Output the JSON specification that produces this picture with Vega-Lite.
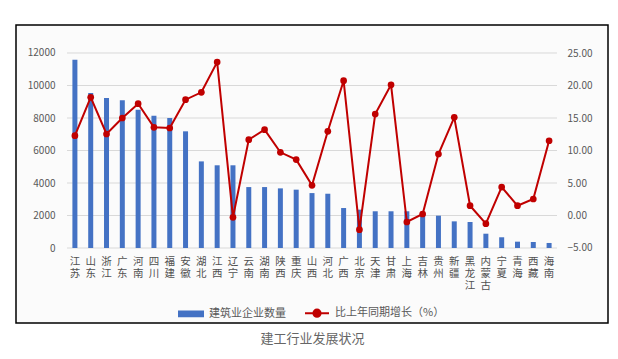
{
  "$schema": "https://vega.github.io/schema/vega-lite/v6.json",
  "width": 592,
  "height": 298,
  "autosize": {"type": "none"},
  "padding": {"left": 16, "top": 25, "right": 10, "bottom": 36},
  "background": "#ffffff",
  "config": {
    "font": "Noto Sans CJK SC",
    "view": {"stroke": "#000000", "strokeWidth": 1.5, "fill": "#fbfbfb"}
  },
  "datasets": {
    "main": [
      {"p": "江苏", "n": 11590, "g": 12.28},
      {"p": "山东", "n": 9540, "g": 18.18},
      {"p": "浙江", "n": 9230, "g": 12.54},
      {"p": "广东", "n": 9090, "g": 15.0},
      {"p": "河南", "n": 8510, "g": 17.2},
      {"p": "四川", "n": 8140, "g": 13.56},
      {"p": "福建", "n": 8000, "g": 13.46},
      {"p": "安徽", "n": 7180, "g": 17.82},
      {"p": "湖北", "n": 5330, "g": 18.95},
      {"p": "江西", "n": 5090, "g": 23.6},
      {"p": "辽宁", "n": 5090, "g": -0.28},
      {"p": "云南", "n": 3750, "g": 11.67},
      {"p": "湖南", "n": 3750, "g": 13.2},
      {"p": "陕西", "n": 3670, "g": 9.72},
      {"p": "重庆", "n": 3590, "g": 8.6},
      {"p": "山西", "n": 3380, "g": 4.64},
      {"p": "河北", "n": 3340, "g": 12.95},
      {"p": "广西", "n": 2460, "g": 20.74},
      {"p": "北京", "n": 2360, "g": -2.18},
      {"p": "天津", "n": 2260, "g": 15.6},
      {"p": "甘肃", "n": 2260, "g": 20.1},
      {"p": "上海", "n": 2260, "g": -1.0},
      {"p": "吉林", "n": 2050, "g": 0.23},
      {"p": "贵州", "n": 1990, "g": 9.46},
      {"p": "新疆", "n": 1640, "g": 15.1},
      {"p": "黑龙江", "n": 1600, "g": 1.51},
      {"p": "内蒙古", "n": 880, "g": -1.26},
      {"p": "宁夏", "n": 660, "g": 4.38},
      {"p": "青海", "n": 390, "g": 1.51},
      {"p": "西藏", "n": 370, "g": 2.54},
      {"p": "海南", "n": 310, "g": 11.5}
    ],
    "grid": [{"v": 0}, {"v": 2000}, {"v": 4000}, {"v": 6000}, {"v": 8000}, {"v": 10000}, {"v": 12000}]
  },
  "layer": [
    {
      "data": {"name": "grid"},
      "mark": {"type": "rule", "color": "#d9d9d9", "strokeWidth": 1},
      "encoding": {
        "y": {"field": "v", "type": "quantitative", "scale": {"domain": [-4615, 13723], "nice": false, "zero": false}, "axis": null},
        "x": {"datum": 0, "type": "quantitative", "scale": {"domain": [-0.1041, 1.1041], "nice": false, "zero": false}, "axis": null},
        "x2": {"datum": 1}
      }
    },
    {
      "data": {"name": "main"},
      "mark": {"type": "bar"},
      "encoding": {
        "x": {
          "field": "p", "type": "nominal", "sort": null,
          "scale": {"range": [51, 541], "paddingInner": 0.684, "paddingOuter": 0.342},
          "axis": {
            "orient": "bottom", "offset": -70, "labelAngle": 0, "labelPadding": 3,
            "ticks": false, "domain": false, "labelOverlap": false, "labelBound": false,
            "labelExpr": "split(datum.label, '')", "labelLineHeight": 12,
            "labelFontSize": 10.5, "labelColor": "#505050", "labelBaseline": "top",
            "title": "建工行业发展状况", "titlePadding": 42, "titleFontSize": 13,
            "titleFontWeight": "normal", "titleColor": "#666666"
          }
        },
        "y": {
          "field": "n", "type": "quantitative",
          "scale": {"domain": [-4615, 13723], "nice": false, "zero": false},
          "axis": {
            "orient": "left", "offset": -44, "values": [0, 2000, 4000, 6000, 8000, 10000, 12000],
            "format": "d", "grid": false, "domain": false, "ticks": false, "labelPadding": 5,
            "labelFontSize": 10, "labelColor": "#595959", "title": null
          }
        },
        "color": {
          "datum": "建筑业企业数量",
          "scale": {"domain": ["建筑业企业数量", "比上年同期增长（%）"], "range": ["#4472C4", "#C00000"]},
          "legend": {
            "orient": "none", "legendX": 162, "legendY": 275, "direction": "horizontal",
            "title": null, "symbolSize": 576, "symbolStrokeWidth": 2, "labelFontSize": 11,
            "labelColor": "#595959", "labelOffset": 5, "columnPadding": 15,
            "encode": {
              "symbols": {
                "update": {
                  "shape": {"signal": "datum.value === '建筑业企业数量' ? 'M-1,-0.2H1V0.2H-1Z' : 'M-1,0H1M-0.3,0A0.3,0.3,0,1,0,0.3,0A0.3,0.3,0,1,0,-0.3,0Z'"},
                  "fill": {"signal": "datum.value === '建筑业企业数量' ? '#4472C4' : '#C00000'"},
                  "stroke": {"signal": "datum.value === '建筑业企业数量' ? '#4472C4' : '#C00000'"},
                  "opacity": {"value": 1},
                  "fillOpacity": {"value": 1}
                }
              }
            }
          }
        }
      }
    },
    {
      "data": {"name": "main"},
      "mark": {"type": "line", "strokeWidth": 2, "point": {"filled": true, "size": 45}},
      "encoding": {
        "x": {
          "field": "p", "type": "nominal", "sort": null,
          "scale": {"range": [51, 541], "paddingInner": 0.684, "paddingOuter": 0.342},
          "axis": null
        },
        "y": {
          "field": "g", "type": "quantitative",
          "scale": {"domain": [-16.54, 29.31], "nice": false, "zero": false},
          "axis": {
            "orient": "right", "offset": -45, "values": [-5, 0, 5, 10, 15, 20, 25],
            "format": ".2f", "grid": false, "domain": false, "ticks": false, "labelPadding": 4,
            "labelFontSize": 10, "labelColor": "#595959", "title": null
          }
        },
        "color": {"datum": "比上年同期增长（%）"}
      }
    }
  ],
  "resolve": {"scale": {"x": "independent", "y": "independent"}}
}
